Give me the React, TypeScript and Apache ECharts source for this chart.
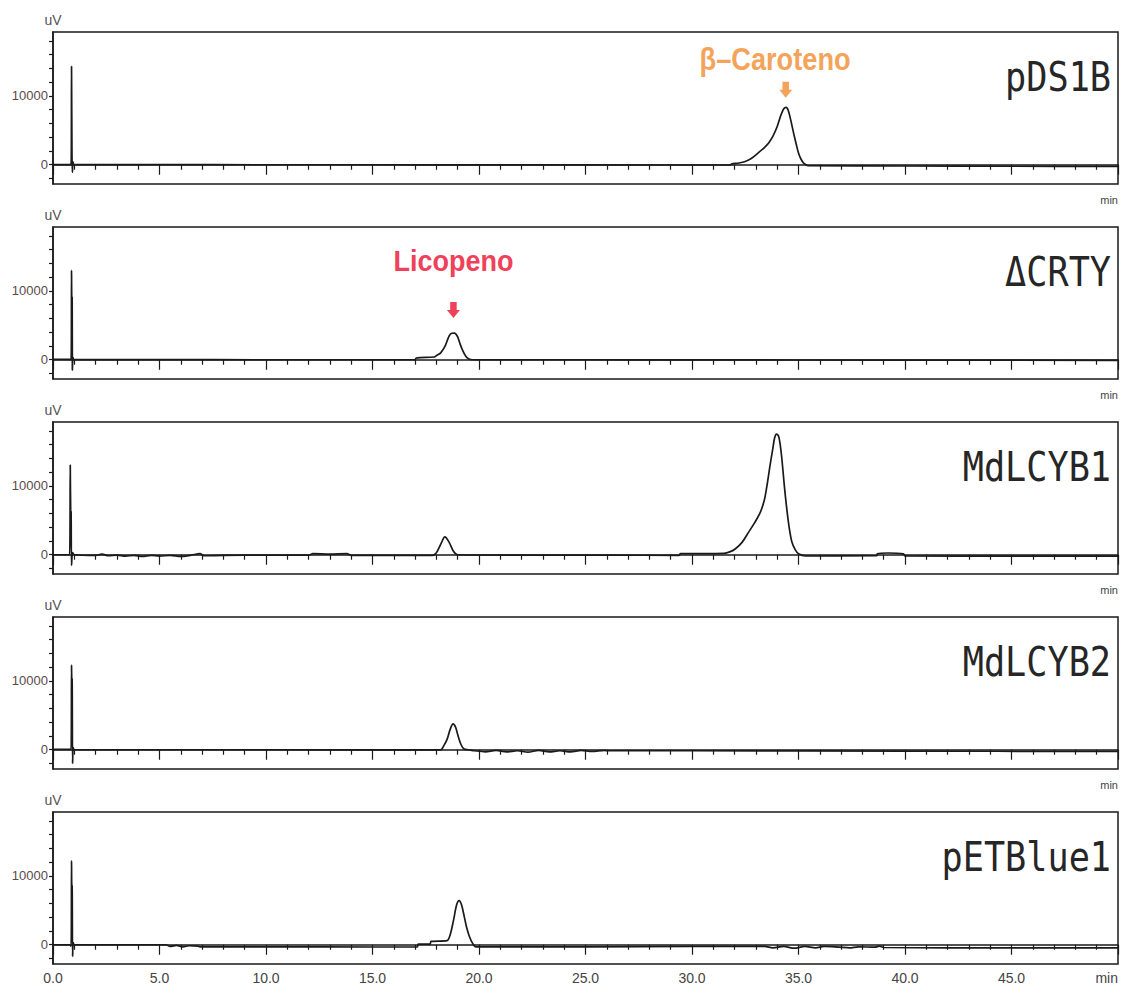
import React, { useEffect, useRef } from "react";
import * as echarts from "echarts";

// ---- Data (time in min, signal in uV) ----
const sampleNames = ["pDS1B", "ΔCRTY", "MdLCYB1", "MdLCYB2", "pETBlue1"];

const pds1bTrace: [number, number][] = [
  [0, 30], [0.8, 30], [0.85, 0], [0.87, 14300], [0.89, 2000], [0.91, -1100], [0.94, 400], [0.98, 20],
  [5, 10], [10, 0], [15, 0], [20, -20], [25, -30], [31.8, -40], [31.85, 100], [32.2, 250], [32.5, 480],
  [32.8, 950], [33.1, 1700], [33.4, 2500], [33.6, 3150], [33.8, 4150], [34.0, 5550], [34.15, 7000],
  [34.3, 8100], [34.42, 8350], [34.52, 7900], [34.65, 6300], [34.77, 4600], [34.9, 2900], [35.0, 1700],
  [35.12, 800], [35.24, 250], [35.45, -150], [40, -180], [45, -220], [50, -250],
];

const dcrtyTrace: [number, number][] = [
  [0, 50], [0.8, 50], [0.85, 0], [0.87, 13000], [0.88, 9200], [0.9, 9000], [0.91, -1500], [0.94, 300],
  [0.98, 30], [5, 20], [10, 0], [15, 0], [17.0, 0], [17.05, 250], [17.9, 400], [18.0, 600],
  [18.2, 1000], [18.4, 1930], [18.6, 3480], [18.72, 3850], [18.85, 3880], [18.99, 3380], [19.1, 2400],
  [19.22, 1450], [19.38, 500], [19.53, 100], [19.7, 0], [25, 0], [30, -20], [40, -50], [50, -80],
];

const mdlcyb1Trace: [number, number][] = [
  [0, 0], [0.78, 0], [0.81, 13050], [0.83, 6400], [0.85, 6200], [0.87, -1550], [0.92, 300], [1.0, 0],
  [2.0, -100], [2.3, 100], [2.6, -150], [3.0, -50], [3.4, -200], [3.8, -100], [4.2, -250], [4.6, -80],
  [5.0, -200], [5.5, -100], [6.0, -250], [6.5, -50], [6.9, 150], [7.1, -150], [8, -100], [10, -50],
  [12, -50], [12.2, 150], [13, 100], [13.8, 150], [14, -100], [16, -100], [17.8, -100], [18.0, 300],
  [18.2, 1500], [18.4, 2600], [18.6, 1800], [18.8, 500], [19.0, 0], [22, -50], [26, -50], [29.4, -100],
  [29.45, 150], [31.5, 200], [31.8, 450], [32.04, 870], [32.35, 1800], [32.66, 3290], [32.95, 4700],
  [33.21, 6190], [33.4, 8000], [33.52, 10050], [33.65, 12700], [33.79, 15370], [33.88, 17000],
  [33.97, 17550], [34.07, 17200], [34.15, 15800], [34.22, 13920], [34.33, 10200], [34.45, 6670],
  [34.57, 3800], [34.69, 1840], [34.85, 700], [35.0, 150], [35.32, -180],
  [38.68, -150], [38.7, 150], [39.2, 250], [39.93, 120], [40, -180], [45, -200], [50, -200],
];

const mdlcyb2Trace: [number, number][] = [
  [0, 50], [0.8, 50], [0.85, 0], [0.87, 12300], [0.88, 10400], [0.9, 10200], [0.92, -2000], [0.95, 300],
  [1.0, 0], [10, 0], [18.2, -30], [18.35, 600], [18.5, 1500], [18.65, 3000], [18.78, 3770], [18.9, 3300],
  [19.0, 2200], [19.15, 800], [19.3, 100], [19.5, 0],
  [19.8, -150], [20.3, -300], [20.8, -100], [21.3, -300], [21.8, -150], [22.3, -350], [22.8, -100],
  [23.3, -300], [23.8, -150], [24.3, -300], [24.8, -100], [25.3, -250], [25.9, -100], [26, -150],
  [30, -150], [40, -200], [50, -250],
];

const petblue1Trace: [number, number][] = [
  [0, 0], [0.8, 0], [0.85, -200], [0.87, 12200], [0.88, 8700], [0.9, 8500], [0.92, -1700], [0.95, 300],
  [1.0, 0], [3, 0], [5.3, 0], [5.5, -250], [5.8, -100], [6.1, -300], [6.4, -150], [6.8, -200], [6.9, -300],
  [10, -300], [15, -330], [17.1, -330], [17.15, 100], [17.7, 100], [17.75, 480], [18.5, 600],
  [18.65, 1500], [18.8, 3500], [18.95, 5800], [19.07, 6420], [19.18, 5800], [19.3, 4200], [19.42, 2500],
  [19.55, 1200], [19.7, 200], [19.85, -300], [25, -300], [30, -250], [33.4, -250],
  [33.8, -450], [34.3, -250], [34.8, -500], [35.3, -250], [35.8, -450], [36.2, -250], [36.9, -350],
  [37.4, -450], [37.8, -300], [38.6, -350], [38.8, -200], [39, -400], [45, -450], [50, -450],
];

const traces = [pds1bTrace, dcrtyTrace, mdlcyb1Trace, mdlcyb2Trace, petblue1Trace];

const xTickLabels = [0, 5, 10, 15, 20, 25, 30, 35, 40, 45];
const yTickValues = [-2000, 0, 2000, 4000, 6000, 8000, 10000, 12000, 14000, 16000, 18000];
const yLabelValues = [0, 10000];

// peak annotations
const annotations = [
  { panel: 0, t: 34.4, arrowV: 10900, textT: 33.9, textV: 15400, text: "β–Caroteno", color: "#F4A35B", size: 32, scale: 0.85 },
  { panel: 1, t: 18.8, arrowV: 7250, textT: 18.8, textV: 14500, text: "Licopeno", color: "#EF4159", size: 30, scale: 0.9 },
];

const arrowPath = "path://M3,0 L9,0 L9,7 L12,7 L6,14 L0,7 L3,7 Z";

export default function App() {
  const ref = useRef<HTMLDivElement>(null);
  useEffect(() => {
    if (!ref.current) return;
    const chart = echarts.init(ref.current, undefined, { renderer: "svg" });
    const n = traces.length;
    const top0 = 32;
    const step = 195;
    const h = 152;
    const labelFont = "'Liberation Sans', Arial, sans-serif";

    const grids = traces.map((_, i) => ({
      left: 53,
      right: 7,
      top: top0 + step * i,
      height: h,
      show: true,
      borderColor: "#1a1a1a",
      borderWidth: 1.5,
      backgroundColor: "#fff",
    }));

    const xAxes = traces.map((_, i) => ({
      type: "value",
      gridIndex: i,
      min: 0,
      max: 50,
      interval: 5,
      axisLine: { show: true, lineStyle: { color: "#1a1a1a", width: 1.5 } },
      axisTick: { show: true, length: 10, lineStyle: { color: "#1a1a1a", width: 1.2 } },
      minorTick: { show: true, splitNumber: 5, length: 5, lineStyle: { color: "#1a1a1a", width: 1.2 } },
      splitLine: { show: false },
      axisLabel: {
        show: i === n - 1,
        customValues: xTickLabels,
        formatter: (v: number) => v.toFixed(1),
        color: "#444",
        fontSize: 14,
        fontFamily: labelFont,
        margin: 7,
      },
    }));

    const yAxes = traces.map((_, i) => ({
      type: "value",
      gridIndex: i,
      min: -2800,
      max: 19300,
      name: "uV",
      nameLocation: "end",
      nameGap: 5,
      nameTextStyle: { color: "#555", fontSize: 14, fontFamily: labelFont, align: "center" },
      axisLine: { show: true, lineStyle: { color: "#1a1a1a", width: 1.5 } },
      axisTick: { show: true, customValues: yTickValues, length: 4, lineStyle: { color: "#1a1a1a", width: 1.2 } },
      splitLine: { show: false },
      axisLabel: {
        show: true,
        customValues: yLabelValues,
        formatter: (v: number) => String(v),
        color: "#5a4a4a",
        fontSize: 13,
        fontFamily: labelFont,
        margin: 5,
      },
    }));

    const series = traces.map((d, i) => {
      const ann = annotations.filter((a) => a.panel === i);
      return {
        type: "line",
        xAxisIndex: i,
        yAxisIndex: i,
        data: d,
        showSymbol: false,
        smooth: 0.3,
        lineStyle: { color: "#1a1a1a", width: 1.7 },
        markPoint: ann.length
          ? {
              silent: true,
              data: ann.map((a) => ({
                coord: [a.t, a.arrowV],
                symbol: arrowPath,
                symbolSize: [13, 16],
                itemStyle: { color: a.color },
                label: { show: false },
              })),
            }
          : undefined,
      };
    });

    const nameGraphics = sampleNames.map((name, i) => ({
      type: "text",
      x: 1111,
      y: 77 + step * i,
      scaleX: 0.88,
      z: 10,
      style: {
        text: name,
        fontSize: 40,
        fontFamily: "'DejaVu Sans Mono', monospace",
        fill: "#262626",
        align: "right",
        verticalAlign: "middle",
      },
    }));

    const minGraphics = traces.map((_, i) => ({
      type: "text",
      x: 1118,
      y: top0 + step * i + h + (i === n - 1 ? 14 : 16),
      z: 10,
      style: {
        text: "min",
        fontSize: i === n - 1 ? 14 : 11,
        fontFamily: labelFont,
        fill: "#444",
        align: "right",
        verticalAlign: "middle",
      },
    }));

    chart.setOption({
      animation: false,
      backgroundColor: "#fff",
      grid: grids,
      xAxis: xAxes,
      yAxis: yAxes,
      series,
      graphic: [...nameGraphics, ...minGraphics],
    });

    // annotation texts placed through the axes' own scales
    const annGraphics = annotations.map((a) => {
      const p = chart.convertToPixel({ xAxisIndex: a.panel, yAxisIndex: a.panel }, [a.textT, a.textV]) as number[];
      return {
        type: "text",
        x: p[0],
        y: p[1],
        scaleX: a.scale,
        z: 10,
        style: {
          text: a.text,
          fontSize: a.size,
          fontWeight: "bold",
          fontFamily: labelFont,
          fill: a.color,
          align: "center",
          verticalAlign: "middle",
        },
      };
    });
    chart.setOption({ graphic: [...nameGraphics, ...minGraphics, ...annGraphics] });

    return () => chart.dispose();
  }, []);

  return (
    <div
      ref={ref}
      style={{ position: "fixed", left: 0, top: 0, width: 1125, height: 994, background: "#fff" }}
    />
  );
}
